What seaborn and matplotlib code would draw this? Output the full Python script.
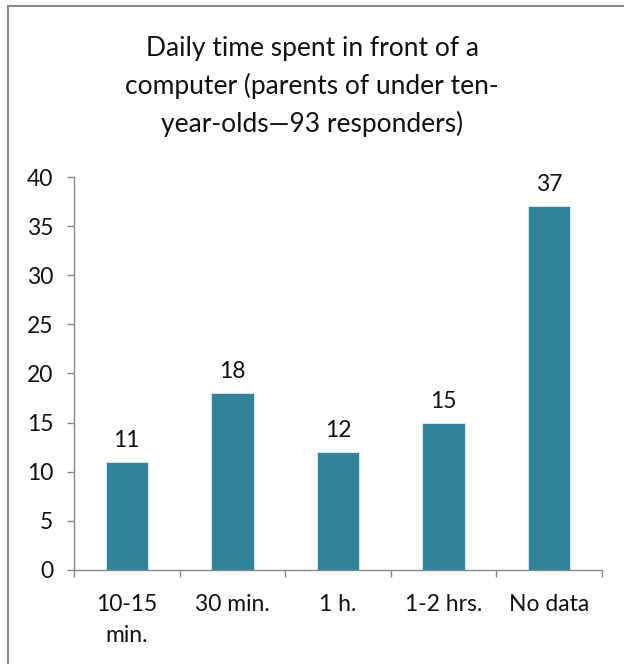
import pandas as pd
import numpy as np
import seaborn as sns
import matplotlib.pyplot as plt
from matplotlib.patches import Rectangle

categories = ['10-15\nmin.', '30 min.', '1 h.', '1-2 hrs.', 'No data']
values = [11, 18, 12, 15, 37]
title = 'Daily time spent in front of a\ncomputer (parents of under ten-\nyear-olds\u201493 responders)'

df = pd.DataFrame({'Time': categories, 'Count': values})

sns.set_style('white')
plt.rcParams['font.family'] = ['Lato', 'DejaVu Sans']

fig = plt.figure(figsize=(6.24, 6.64), dpi=100)
ax = fig.add_axes([0.1186, 0.1416, 0.8461, 0.5918])

sns.barplot(data=df, x='Time', y='Count', color='#31849B', width=0.4,
            saturation=1, edgecolor='#DDEBEF', linewidth=0.6, ax=ax)

# value labels above bars
ax.bar_label(ax.containers[0], padding=8, fontsize=16.5, color='#111111')

ax.set_ylim(0, 40)
ax.set_yticks(range(0, 41, 5))
ax.set_xlim(-0.5, len(categories) - 0.5)
ax.set_xlabel('')
ax.set_ylabel('')

# category boundary ticks like Excel
ax.set_xticks(np.arange(-0.5, len(categories), 1.0), minor=True)
ax.tick_params(axis='x', which='major', bottom=True, length=0, pad=17,
               labelsize=16.5, labelcolor='#111111')
ax.tick_params(axis='x', which='minor', bottom=True, length=5, width=1,
               color='#898989', direction='out')
ax.tick_params(axis='y', left=True, length=5, width=1, color='#898989',
               direction='out', pad=10, labelsize=16.5, labelcolor='#111111')
for lbl in ax.get_xticklabels():
    lbl.set_linespacing(1.6)

for s in ['top', 'right']:
    ax.spines[s].set_visible(False)
for s in ['left', 'bottom']:
    ax.spines[s].set_color('#898989')
    ax.spines[s].set_linewidth(1)

fig.text(0.5, 0.870, title, ha='center', va='center', fontsize=19,
         linespacing=1.57, color='#111111')

# outer chart border
fig.patches.append(Rectangle((8 / 624, -0.05), 1.1, 1 - 6 / 664 + 0.05,
                             transform=fig.transFigure, fill=False,
                             edgecolor='#8C8C8C', linewidth=1.5))

fig.savefig('out.png', dpi=100)
